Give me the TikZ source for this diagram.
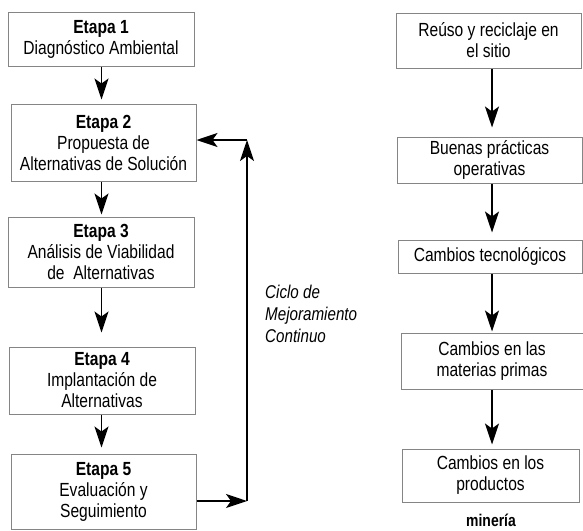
\documentclass[tikz,border=0pt]{standalone}
\usepackage{fontspec}
\setmainfont{Liberation Sans}[FakeStretch=0.82]
\usetikzlibrary{arrows.meta}
\begin{document}
\begin{tikzpicture}[x=1pt,y=-1pt,
  box/.style={draw=black!48, line width=1pt, align=center, inner sep=0pt,
    font=\fontsize{19}{21}\selectfont},
  arr/.style={-{Stealth[length=21pt,width=14pt,inset=5pt]}, line width=1.3pt, black}]
\useasboundingbox (0,0) rectangle (583,530);
% left column
\node[box, minimum width=186pt, minimum height=54pt] (s1) at (101,39) {\textbf{Etapa 1}\\Diagnóstico Ambiental};
\node[box, minimum width=185pt, minimum height=77pt] (s2) at (103.5,142.5) {\textbf{Etapa 2}\\Propuesta de\\Alternativas de Solución};
\node[box, minimum width=186pt, minimum height=70pt] (s3) at (101,252) {\textbf{Etapa 3}\\Análisis de Viabilidad\\de~ Alternativas};
\node[box, minimum width=186pt, minimum height=67pt] (s4) at (102,380.5) {\textbf{Etapa 4}\\Implantación de\\Alternativas};
\node[box, minimum width=185pt, minimum height=75pt] (s5) at (103.5,491.5) {\textbf{Etapa 5}\\Evaluación y\\Seguimiento};
\coordinate (lx) at (101.5,0);
\draw[arr, shorten >=4pt] (s1.south -| lx) -- (s2.north -| lx);
\draw[arr, shorten >=2pt] (s2.south -| lx) -- (s3.north -| lx);
\draw[arr, shorten >=14pt] (s3.south -| lx) -- (s4.north -| lx);
\draw[arr, shorten >=6pt] (s4.south -| lx) -- (s5.north -| lx);
% loop
\coordinate (lp) at (247,501);
\coordinate (lt) at (247,140);
\draw[arr] (s5.east |- lp) -- (lp);
\draw[arr] (lp) -- (lt);
\draw[arr] (lt) -- (s2.east |- lt);
\node[anchor=north west, align=left, inner sep=0pt, font=\itshape\fontsize{18.5}{22}\selectfont] (ciclo) at (265,285) {Ciclo de\\Mejoramiento\\Continuo};
% right column
\node[box, minimum width=185pt, minimum height=55pt] (r1) at (488.5,40.5) {Reúso y reciclaje en\\el sitio};
\node[box, minimum width=185pt, minimum height=46pt] (r2) at (489.5,160) {Buenas prácticas\\operativas};
\node[box, minimum width=184pt, minimum height=33pt] (r3) at (490,256.5) {Cambios tecnológicos};
\node[box, minimum width=182pt, minimum height=56pt] (r4) at (492,361) {Cambios en las\\materias primas};
\node[box, minimum width=177pt, minimum height=53pt] (r5) at (490.5,475.5) {Cambios en los\\productos};
\coordinate (rx) at (492,0);
\draw[arr, shorten >=9pt] (r1.south -| rx) -- (r2.north -| rx);
\draw[arr, shorten >=7pt] (r2.south -| rx) -- (r3.north -| rx);
\draw[arr, shorten >=1pt] (r3.south -| rx) -- (r4.north -| rx);
\draw[arr, shorten >=4pt] (r4.south -| rx) -- (r5.north -| rx);
\node[anchor=base, inner sep=0pt, font=\bfseries\fontsize{17}{20}\selectfont] (min) at (491,526) {minería};
\end{tikzpicture}
\end{document}
